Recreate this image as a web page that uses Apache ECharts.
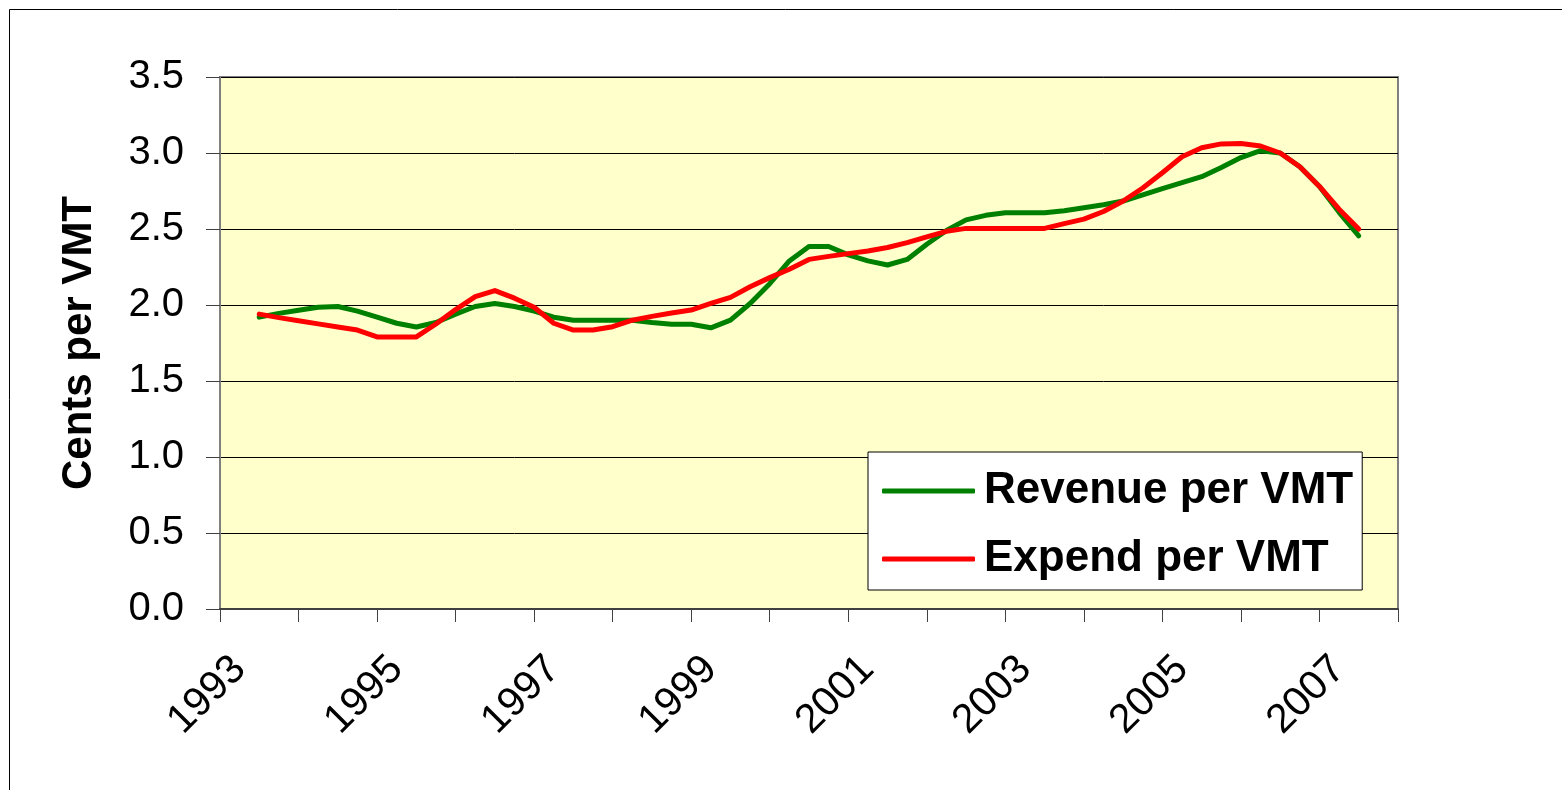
<!DOCTYPE html>
<html>
<head>
<meta charset="utf-8">
<title>Revenue and Expend per VMT</title>
<script src="https://cdn.jsdelivr.net/npm/echarts@6.0.0/dist/echarts.min.js"></script>
<style>
  html, body { margin: 0; padding: 0; background: #fff; }
  #chart { width: 1562px; height: 790px; }
</style>
</head>
<body>
<div id="chart"></div>
<script>
// year categories on the axis (labels shown every other year)
var years = ['1993', '1994', '1995', '1996', '1997', '1998', '1999', '2000',
  '2001', '2002', '2003', '2004', '2005', '2006', '2007'];

// quarterly observations, first one at mid-1993, last at mid-2007
var firstQuarter = 1993.5;
var quarterStep = 0.25;

var revenuePerVMT = [
  1.92, 1.945, 1.965, 1.985, 1.99, 1.96, 1.92, 1.88, 1.855, 1.885,
  1.94, 1.99, 2.01, 1.99, 1.96, 1.92, 1.90, 1.90, 1.90, 1.90,
  1.885, 1.873, 1.873, 1.85, 1.90, 2.01, 2.14, 2.29, 2.385, 2.385,
  2.33, 2.29, 2.263, 2.30, 2.40, 2.49, 2.56, 2.59, 2.607, 2.607,
  2.607, 2.62, 2.64, 2.66, 2.684, 2.725, 2.765, 2.805, 2.844, 2.905,
  2.97, 3.015, 3.00, 2.91, 2.78, 2.61, 2.455
];

var expendPerVMT = [
  1.94, 1.917, 1.897, 1.876, 1.855, 1.835, 1.79, 1.79, 1.79, 1.875,
  1.97, 2.055, 2.095, 2.045, 1.985, 1.88, 1.835, 1.835, 1.857, 1.90,
  1.925, 1.947, 1.967, 2.01, 2.05, 2.12, 2.18, 2.235, 2.30, 2.32,
  2.338, 2.355, 2.378, 2.41, 2.448, 2.485, 2.504, 2.504, 2.504, 2.504,
  2.504, 2.535, 2.565, 2.615, 2.684, 2.77, 2.87, 2.975, 3.035, 3.06,
  3.063, 3.046, 3.00, 2.91, 2.78, 2.63, 2.50
];

var yTicks = { min: 0, max: 3.5, step: 0.5 };

function toPoints(values) {
  return values.map(function (v, i) {
    return [firstQuarter + i * quarterStep, v];
  });
}

var font = '"Liberation Sans", Arial, sans-serif';
var chart = echarts.init(document.getElementById('chart'));

chart.setOption({
  animation: false,
  backgroundColor: '#ffffff',
  grid: {
    left: 220,
    right: 164,
    top: 77,
    bottom: 181,
    show: true,
    backgroundColor: '#FFFFCC',
    borderColor: '#808080',
    borderWidth: 2
  },
  legend: {
    orient: 'vertical',
    left: 868,
    top: 452,
    padding: [17, 9, 9, 14],
    backgroundColor: '#ffffff',
    borderColor: '#000000',
    borderWidth: 1,
    itemWidth: 93,
    itemHeight: 5,
    itemGap: 24,
    icon: 'roundRect',
    textStyle: {
      fontFamily: font,
      fontSize: 44,
      fontWeight: 'bold',
      color: '#000',
      padding: [0, 0, 0, 4]
    },
    data: ['Revenue per VMT', 'Expend per VMT']
  },
  xAxis: [
    {
      type: 'category',
      data: years,
      boundaryGap: true,
      axisLine: { lineStyle: { color: '#404040', width: 2 } },
      axisTick: {
        show: true,
        interval: 0,
        length: 13,
        lineStyle: { color: '#404040', width: 1 }
      },
      axisLabel: {
        interval: 1,
        rotate: 45,
        margin: 34,
        padding: [0, 28, 0, 0],
        fontFamily: font,
        fontSize: 41,
        color: '#000'
      },
      splitLine: { show: false }
    },
    {
      type: 'value',
      min: 1993,
      max: 2008,
      show: false
    }
  ],
  yAxis: {
    type: 'value',
    min: yTicks.min,
    max: yTicks.max,
    interval: yTicks.step,
    name: 'Cents per VMT',
    nameLocation: 'middle',
    nameGap: 120,
    nameTextStyle: {
      fontFamily: font,
      fontSize: 42,
      fontWeight: 'bold',
      color: '#000'
    },
    axisLine: { show: true, lineStyle: { color: '#808080', width: 2 } },
    axisTick: { show: true, length: 14, lineStyle: { color: '#404040', width: 1 } },
    axisLabel: {
      margin: 36,
      fontFamily: font,
      fontSize: 40,
      color: '#000',
      formatter: function (v) { return v.toFixed(1); }
    },
    splitLine: { show: true, lineStyle: { color: '#000', width: 1 } }
  },
  series: [
    {
      name: 'Revenue per VMT',
      type: 'line',
      xAxisIndex: 1,
      data: toPoints(revenuePerVMT),
      showSymbol: false,
      symbol: 'none',
      color: '#008000',
      lineStyle: { width: 5, color: '#008000', cap: 'round', join: 'round' }
    },
    {
      name: 'Expend per VMT',
      type: 'line',
      xAxisIndex: 1,
      data: toPoints(expendPerVMT),
      showSymbol: false,
      symbol: 'none',
      color: '#FF0000',
      lineStyle: { width: 5, color: '#FF0000', cap: 'round', join: 'round' }
    }
  ],
  graphic: [
    {
      type: 'polyline',
      shape: { points: [[9.5, 790], [9.5, 9.5], [1562, 9.5]] },
      style: { stroke: '#000', lineWidth: 1, fill: null },
      silent: true
    }
  ]
});

window.addEventListener('resize', function () {
  chart.resize();
});
</script>
</body>
</html>
